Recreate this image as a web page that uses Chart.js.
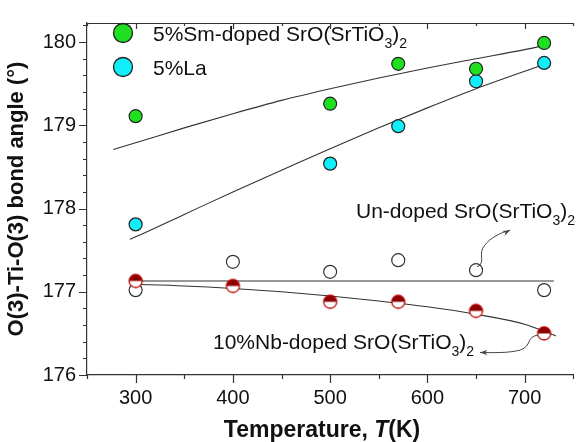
<!DOCTYPE html>
<html>
<head>
<meta charset="utf-8">
<script src="https://cdn.jsdelivr.net/npm/chart.js@4.4.1/dist/chart.umd.min.js"></script>
<style>
html, body { margin: 0; padding: 0; background: #fff; overflow: hidden; }
#wrap { width: 579px; height: 442px; overflow: hidden; }
</style>
</head>
<body>
<div id="wrap"><canvas id="bondChart" width="581" height="442"></canvas></div>
<script>
// measured points
const tempDoped = [300, 500, 570, 650, 720];
const smAngle = [179.11, 179.26, 179.74, 179.68, 179.99];
const laAngle = [177.81, 178.54, 178.99, 179.53, 179.75];

const tempAll = [300, 400, 500, 570, 650, 720];
const undopedAngle = [177.02, 177.36, 177.24, 177.38, 177.26, 177.02];
const nbAngle = [177.13, 177.07, 176.88, 176.88, 176.77, 176.50];

// fit curves
const smFitT = [277, 300, 350, 400, 450, 500, 550, 600, 650, 700, 720];
const smFitAngle = [178.71, 178.79, 178.97, 179.14, 179.30, 179.44, 179.57, 179.69, 179.80, 179.91, 179.96];
const laFitT = [294, 300, 350, 400, 450, 500, 550, 600, 650, 700, 720];
const laFitAngle = [177.63, 177.66, 177.93, 178.20, 178.46, 178.72, 178.97, 179.21, 179.44, 179.65, 179.73];
const undopedFitT = [295, 730];
const undopedFitAngle = [177.13, 177.13];
const nbFitT = [296, 350, 400, 450, 500, 550, 600, 650, 700, 732];
const nbFitAngle = [177.09, 177.07, 177.04, 177.00, 176.95, 176.89, 176.82, 176.73, 176.61, 176.47];

const xTicks = [300, 400, 500, 600, 700];
const yTicks = [176, 177, 178, 179, 180];

const FONT = '"Liberation Sans", Arial, Helvetica, sans-serif';
const GREEN = '#1fe01f';
const CYAN = '#10eefa';
const EDGE = '#222';

const pairs = (xs, ys) => xs.map((x, i) => ({ x: x, y: ys[i] }));

// half filled marker for the Nb series
function halfMarker(r) {
    const c = document.createElement('canvas');
    const s = Math.ceil(r * 2 + 4);
    c.width = s; c.height = s;
    const g = c.getContext('2d');
    const m = s / 2;
    g.beginPath(); g.arc(m, m, r, 0, Math.PI * 2); g.fillStyle = '#fff'; g.fill();
    g.beginPath(); g.arc(m, m, r, Math.PI, Math.PI * 2); g.closePath(); g.fillStyle = '#8a0000'; g.fill();
    g.beginPath(); g.arc(m, m, r, 0, Math.PI * 2); g.lineWidth = 1.3; g.strokeStyle = '#b80000'; g.stroke();
    return c;
}
const nbMarker = halfMarker(6.5);

function fitLine(label, xs, ys) {
    return {
        label: label,
        data: pairs(xs, ys),
        showLine: true,
        borderColor: '#333',
        borderWidth: 1.1,
        pointRadius: 0,
        cubicInterpolationMode: 'monotone',
        fill: false
    };
}

function drawRich(ctx, x, y, parts, size) {
    let cx = x;
    parts.forEach(p => {
        const fs = p.sub ? Math.round(size * 0.68) : size;
        ctx.font = fs + 'px ' + FONT;
        ctx.fillText(p.t, cx, p.sub ? y + 7 : y);
        cx += ctx.measureText(p.t).width;
    });
}

function arrow(ctx, pts, headDir) {
    ctx.beginPath();
    ctx.moveTo(pts[0][0], pts[0][1]);
    for (let i = 1; i + 2 < pts.length; i += 3) {
        ctx.bezierCurveTo(pts[i][0], pts[i][1], pts[i + 1][0], pts[i + 1][1], pts[i + 2][0], pts[i + 2][1]);
    }
    ctx.strokeStyle = '#444';
    ctx.lineWidth = 1;
    ctx.stroke();
    const tip = pts[pts.length - 1];
    const a = headDir;
    ctx.beginPath();
    ctx.moveTo(tip[0], tip[1]);
    ctx.lineTo(tip[0] - 8 * Math.cos(a - 0.35), tip[1] - 8 * Math.sin(a - 0.35));
    ctx.lineTo(tip[0] - 5 * Math.cos(a), tip[1] - 5 * Math.sin(a));
    ctx.lineTo(tip[0] - 8 * Math.cos(a + 0.35), tip[1] - 8 * Math.sin(a + 0.35));
    ctx.closePath();
    ctx.fillStyle = '#444';
    ctx.fill();
}

const decorations = {
    id: 'decorations',
    afterDatasetsDraw(chart) {
        const ctx = chart.ctx;
        const xs = chart.scales.x, ys = chart.scales.y;
        const area = chart.chartArea;
        const P = (t, a) => [xs.getPixelForValue(t), ys.getPixelForValue(a)];
        ctx.save();

        // top frame + inner ticks, bottom and left outer ticks
        ctx.strokeStyle = '#333';
        ctx.lineWidth = 1.2;
        ctx.beginPath();
        ctx.moveTo(area.left, area.top + 0.5);
        ctx.lineTo(area.right, area.top + 0.5);
        for (let t = 250; t <= 750; t += 50) {
            const px = Math.round(xs.getPixelForValue(t)) + 0.5;
            const major = t % 100 === 0;
            ctx.moveTo(px, area.bottom); ctx.lineTo(px, area.bottom + (major ? 8 : 4));
            ctx.moveTo(px, area.top); ctx.lineTo(px, area.top + (major ? 6 : 3));
        }
        for (let i = 0; i <= 21; i++) {
            const v = 176 + i * 0.2;
            const py = Math.round(ys.getPixelForValue(v)) + 0.5;
            const major = i % 5 === 0;
            ctx.moveTo(area.left, py); ctx.lineTo(area.left - (major ? 8 : 4), py);
        }
        ctx.stroke();

        // legend
        const legend = [
            { c: GREEN, y: 33, parts: [{ t: '5%Sm-doped SrO(SrTiO' }, { t: '3', sub: true }, { t: ')' }, { t: '2', sub: true }] },
            { c: CYAN, y: 67, parts: [{ t: '5%La' }] }
        ];
        legend.forEach(l => {
            ctx.beginPath();
            ctx.arc(area.left + 36, l.y, 9.5, 0, Math.PI * 2);
            ctx.fillStyle = l.c; ctx.fill();
            ctx.lineWidth = 1.3; ctx.strokeStyle = EDGE; ctx.stroke();
            ctx.fillStyle = '#111';
            ctx.textBaseline = 'alphabetic';
            drawRich(ctx, area.left + 66, l.y + 8, l.parts, 21);
        });

        // annotations
        ctx.fillStyle = '#111';
        drawRich(ctx, 356, 218, [{ t: 'Un-doped SrO(SrTiO' }, { t: '3', sub: true }, { t: ')' }, { t: '2', sub: true }], 21);
        drawRich(ctx, 213, 349, [{ t: '10%Nb-doped SrO(SrTiO' }, { t: '3', sub: true }, { t: ')' }, { t: '2', sub: true }], 21);

        arrow(ctx, [P(651, 177.30), P(661, 177.35), P(651, 177.46), P(659, 177.56),
                    P(665, 177.65), P(675, 177.71), P(685, 177.74)], -0.45);
        arrow(ctx, [P(713.6, 176.48), P(701.5, 176.46), P(707.6, 176.35), P(695.5, 176.30),
                    P(682.3, 176.26), P(667.2, 176.27), P(654.0, 176.27)], Math.PI);

        // x axis title with italic T
        const xt = [
            { t: 'Temperature, ', f: 'bold 23px ' + FONT },
            { t: 'T', f: 'italic bold 23px ' + FONT },
            { t: '(K)', f: 'bold 23px ' + FONT }
        ];
        ctx.fillStyle = '#111';
        let w = 0;
        xt.forEach(p => { ctx.font = p.f; w += ctx.measureText(p.t).width; });
        let cx = 322 - w / 2;
        xt.forEach(p => { ctx.font = p.f; ctx.fillText(p.t, cx, 437); cx += ctx.measureText(p.t).width; });

        ctx.restore();
    }
};

const config = {
    type: 'scatter',
    data: {
        datasets: [
            { label: '5%Sm-doped', data: pairs(tempDoped, smAngle), pointRadius: 6.5, pointHoverRadius: 6.5,
              backgroundColor: GREEN, borderColor: EDGE, borderWidth: 1.2 },
            { label: '5%La', data: pairs(tempDoped, laAngle), pointRadius: 6.5, pointHoverRadius: 6.5,
              backgroundColor: CYAN, borderColor: EDGE, borderWidth: 1.2 },
            { label: '10%Nb-doped', data: pairs(tempAll, nbAngle), pointStyle: nbMarker, pointRadius: 6.5 },
            { label: 'Un-doped', data: pairs(tempAll, undopedAngle), pointRadius: 6.5, pointHoverRadius: 6.5,
              backgroundColor: '#fff', borderColor: '#333', borderWidth: 1.2 },
            fitLine('Sm fit', smFitT, smFitAngle),
            fitLine('La fit', laFitT, laFitAngle),
            fitLine('Un-doped fit', undopedFitT, undopedFitAngle),
            fitLine('Nb fit', nbFitT, nbFitAngle)
        ]
    },
    options: {
        responsive: false,
        animation: false,
        events: [],
        layout: { padding: { top: 13, right: 0, left: 0, bottom: 0 } },
        scales: {
            x: {
                type: 'linear',
                min: 250,
                max: 750,
                afterBuildTicks: s => { s.ticks = xTicks.map(v => ({ value: v })); },
                afterFit: s => { s.height = 67; },
                grid: { display: false, drawTicks: false },
                border: { display: true, color: '#333', width: 1.2 },
                ticks: { color: '#111', font: { family: FONT, size: 20 }, padding: 11, maxRotation: 0 }
            },
            y: {
                type: 'linear',
                min: 176,
                max: 180.23,
                afterBuildTicks: s => { s.ticks = yTicks.map(v => ({ value: v })); },
                afterFit: s => { s.width = 87; },
                grid: { display: false, drawTicks: false },
                border: { display: true, color: '#333', width: 1.2 },
                ticks: { color: '#111', font: { family: FONT, size: 20 }, padding: 11 },
                title: {
                    display: true,
                    text: 'O(3)-Ti-O(3) bond angle (\u00b0)',
                    color: '#111',
                    font: { family: FONT, size: 22, weight: 'bold' },
                    padding: { top: 4, bottom: 0 }
                }
            }
        },
        plugins: {
            legend: { display: false },
            tooltip: { enabled: false }
        }
    },
    plugins: [decorations]
};

new Chart(document.getElementById('bondChart').getContext('2d'), config);
</script>
</body>
</html>
